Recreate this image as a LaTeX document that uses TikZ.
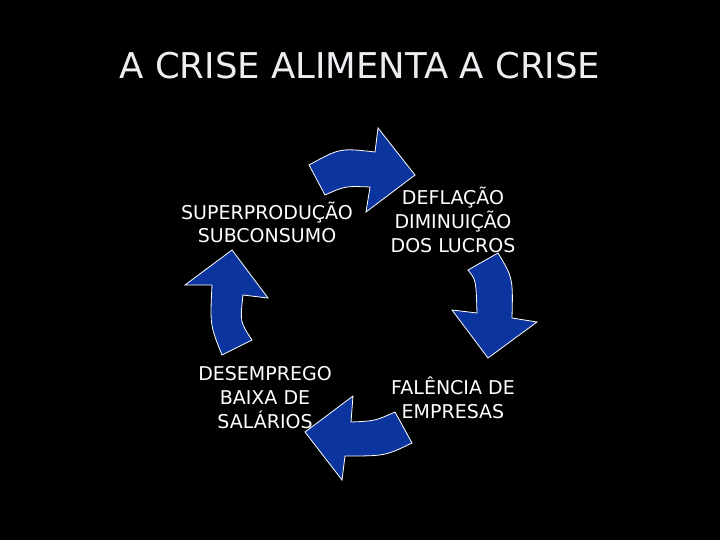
\documentclass[tikz,border=0pt]{standalone}
\usepackage{fontspec}
\setmainfont{DejaVu Sans}
\definecolor{arrowblue}{RGB}{12,52,158}
\definecolor{titlegray}{RGB}{238,238,242}
\begin{document}
\begin{tikzpicture}[x=1pt,y=-1pt,
  cyclearrow/.style={fill=arrowblue,draw=white,line width=0.8pt,line join=miter},
  label/.style={text=white,align=center,font=\fontsize{19}{23.8}\selectfont,inner sep=0pt,anchor=base},
  titletext/.style={text=titlegray,font=\fontsize{35.5}{40}\selectfont,inner sep=0pt,anchor=base}]
\fill[black] (0,0) rectangle (720,540);
\useasboundingbox (0,0) rectangle (720,540);
\node[titletext] (title) at (360,79) {A CRISE ALIMENTA A CRISE};
% arrows
\draw[cyclearrow] (309,165) -- (325,195) .. controls (345,186) .. (370,187) -- (366,212) -- (415,175) -- (378,128) -- (375,152) .. controls (340,148) .. (309,165) -- cycle;
\draw[cyclearrow] (468,270) -- (498,253) .. controls (513,278) .. (512,318) -- (537,322) -- (488,358) -- (452,310) -- (477,313) .. controls (476,280) .. (468,270) -- cycle;
\draw[cyclearrow] (395,412) -- (412,443) .. controls (385,456) .. (345,456) -- (342,480) -- (305,432) -- (353,396) -- (351,422) .. controls (375,421) .. (395,412) -- cycle;
\draw[cyclearrow] (232,250) -- (268,298) -- (243,295) .. controls (240,322) .. (252,340) -- (222,355) .. controls (210,325) .. (212,285) -- (185,285) -- cycle;
% labels (anchor = baseline of last line)
\node[label] (superprod) at (267,243) {SUPERPRODUÇÃO\\SUBCONSUMO};
\node[label] (deflacao) at (453,252) {DEFLAÇÃO\\DIMINUIÇÃO\\DOS LUCROS};
\node[label] (desemprego) at (265,428) {DESEMPREGO\\BAIXA DE\\SALÁRIOS};
\node[label] (falencia) at (453,418) {FALÊNCIA DE\\EMPRESAS};
\end{tikzpicture}
\end{document}
